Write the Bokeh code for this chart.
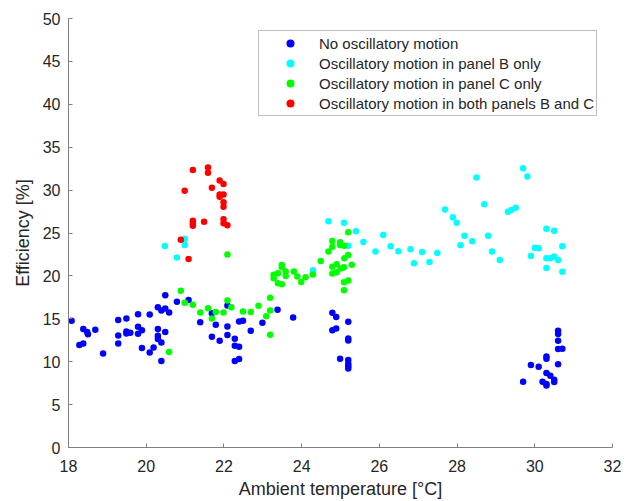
from bokeh.plotting import figure
from bokeh.models import FixedTicker, Legend, LegendItem
from bokeh.embed import file_html
from bokeh.resources import INLINE

# ---- data ----
no_osc_x = [18.08, 18.38, 18.48, 18.5, 18.28, 18.38, 18.69, 18.89, 19.28, 19.28, 19.28, 19.49, 19.49, 19.49, 19.59,
            19.79, 19.79, 19.79, 19.89, 19.89, 20.09, 20.09, 20.19, 20.3, 20.3, 20.3, 20.3, 20.39, 20.39, 20.39,
            20.49, 20.49, 20.49, 20.59, 20.79, 21.09, 21.39,
            21.69, 21.79, 22.09, 22.09, 21.69, 21.89, 22.09, 22.28, 22.28, 22.39, 22.28, 22.39, 22.39, 22.49,
            22.69, 22.99, 23.38, 23.78,
            24.79, 24.89, 24.79, 24.89, 25.2, 25.2, 25.2, 24.99, 25.2, 25.2, 25.2, 25.2,
            30.6, 30.6, 30.6, 30.6, 30.71, 30.3, 30.3, 29.9, 30.1, 30.6, 30.3, 30.4, 29.7, 30.2, 30.3, 30.3, 30.5, 30.5]
no_osc_y = [14.77, 13.8, 13.45, 13.2, 11.94, 12.13, 13.72, 10.97, 14.85, 13.06, 12.13, 15.03, 13.53, 13.3, 13.37,
            15.54, 14.07, 13.26, 13.68, 11.59, 15.5, 11.08, 11.66, 16.36, 13.8, 13.02, 12.64, 15.97, 12.25, 10.08,
            17.75, 16.2, 13.45, 15.73, 16.98, 17.2, 14.6,
            15.66, 14.3, 16.55, 14.1, 12.9, 12.44, 13.1, 12.67, 11.86, 11.74, 10.08, 10.31, 14.69, 14.77,
            13.6, 14.53, 16.05, 15.15,
            15.7, 15.2, 13.68, 13.87, 14.65, 12.71, 12.48, 10.35, 10.2, 9.77, 9.46, 9.22,
            13.6, 13.22, 12.44, 11.47, 11.5, 10.62, 10.35, 9.61, 9.42, 9.69, 8.68, 8.37, 7.67, 7.67, 7.4, 7.24, 7.9, 7.64]

panel_b_x = [20.99, 20.48, 20.99, 20.79,
             24.69, 25.09, 25.4, 25.2, 25.59, 26.1, 25.9, 26.29, 26.49, 26.8, 26.89, 27.1, 27.29, 27.49,
             27.69, 27.89, 27.99, 28.19, 28.09, 28.39, 28.5, 24.29,
             28.7, 28.8, 28.9, 29.1, 29.31, 29.4, 29.51, 29.7, 29.81, 30.3, 30.5, 30.0, 30.1, 29.9,
             30.3, 30.4, 30.5, 30.6, 30.71, 30.3, 30.71]
panel_b_y = [24.3, 23.49, 23.6, 22.13,
             26.36, 26.2, 25.2, 23.52, 23.95, 24.77, 22.83, 23.45, 22.87, 23.1, 21.47, 22.79, 21.63, 22.67,
             27.75, 26.83, 26.2, 24.69, 23.57, 24.03, 31.48, 20.66,
             28.34, 24.69, 22.83, 21.86, 27.48, 27.67, 27.94, 32.56, 31.59, 25.5, 25.27, 23.29, 23.22, 22.33,
             22.05, 22.05, 22.25, 21.86, 23.45, 20.93, 20.47]

panel_c_x = [20.89, 20.99, 21.2, 21.39, 20.59, 21.59, 21.79, 21.69, 21.99, 22.09, 22.19, 22.49, 22.69, 22.89,
             23.19, 23.19, 23.09, 23.19, 22.09,
             23.28, 23.39, 23.49, 23.49, 23.59, 23.59, 23.8, 23.89, 23.99, 24.1, 24.29, 23.28, 23.39, 23.49,
             24.49, 24.69,
             25.2, 24.79, 24.79, 24.99, 24.99, 25.09, 25.2, 25.1, 25.29, 24.9, 24.79, 25.0, 25.09, 24.9, 24.79,
             25.09, 25.2, 25.09]
panel_c_y = [18.26, 16.86, 16.63, 15.73, 11.13, 16.24, 15.78, 15.03, 15.73, 17.13, 16.36, 15.85, 15.78, 16.51,
             17.44, 15.97, 15.31, 13.14, 22.48,
             20.12, 20.31, 21.28, 21.0, 20.5, 20.0, 20.5, 19.92, 19.3, 19.85, 20.15, 19.73, 19.15, 19.03,
             21.74, 22.83,
             25.08, 24.07, 23.4, 23.92, 23.6, 23.52, 22.44, 22.05, 21.31, 21.36, 21.08, 20.85, 21.01, 20.43, 20.27,
             19.27, 19.45, 18.34]

both_x = [21.2, 21.59, 21.59, 21.89, 21.99, 21.69, 20.99, 21.89, 21.99, 21.89, 21.99, 21.99, 21.2, 21.2, 21.2,
          21.49, 21.99, 21.99, 22.09, 20.89, 21.09]
both_y = [32.33, 32.64, 32.01, 31.12, 30.7, 30.27, 29.92, 29.5, 29.5, 29.22, 28.57, 28.06, 26.43, 26.13, 25.85,
          26.32, 26.59, 26.13, 25.9, 24.22, 21.98]

labels = ["No oscillatory motion", "Oscillatory motion in panel B only",
          "Oscillatory motion in panel C only", "Oscillatory motion in both panels B and C"]
colors = ["#0000FF", "#00FFFF", "#00FF00", "#FF0000"]

x_ticks = [18, 20, 22, 24, 26, 28, 30, 32]
y_ticks = [0, 5, 10, 15, 20, 25, 30, 35, 40, 45, 50]

FONT = "Liberation Sans"
TXT = "#262626"
AX = "#808080"

p = figure(width=633, height=501, x_range=(18, 32), y_range=(0, 50),
           output_backend="svg", toolbar_location=None,
           min_border_left=68, min_border_right=21, min_border_top=18, min_border_bottom=53)
p.background_fill_color = "white"
p.border_fill_color = "white"
p.outline_line_color = None
p.xgrid.visible = False
p.ygrid.visible = False

series = [(no_osc_x, no_osc_y), (panel_b_x, panel_b_y), (panel_c_x, panel_c_y), (both_x, both_y)]
renderers = []
for (xs, ys), c in zip(series, colors):
    r = p.scatter(xs, ys, size=6.5, fill_color=c, line_color=None)
    renderers.append(r)

p.xaxis.ticker = FixedTicker(ticks=x_ticks)
p.yaxis.ticker = FixedTicker(ticks=y_ticks)
for ax in (p.xaxis[0], p.yaxis[0]):
    ax.axis_line_color = AX
    ax.major_tick_line_color = AX
    ax.major_tick_in = 4
    ax.major_tick_out = 0
    ax.minor_tick_line_color = None
    ax.major_label_text_font = FONT
    ax.major_label_text_font_size = "16px"
    ax.major_label_text_color = TXT
    ax.axis_label_text_font = FONT
    ax.axis_label_text_font_size = "18px"
    ax.axis_label_text_font_style = "normal"
    ax.axis_label_text_color = TXT

p.xaxis.axis_label = "Ambient temperature [°C]"
p.yaxis.axis_label = "Efficiency [%]"
p.xaxis.major_label_standoff = 12
p.xaxis.axis_label_standoff = 4
p.yaxis.major_label_standoff = 8
p.yaxis.axis_label_standoff = 7

legend = Legend(items=[LegendItem(label=l, renderers=[r]) for l, r in zip(labels, renderers)],
                location=(190, 331))
legend.label_text_font = FONT
legend.label_text_font_size = "15px"
legend.label_text_color = TXT
legend.border_line_color = AX
legend.border_line_width = 1
legend.background_fill_color = "white"
legend.background_fill_alpha = 1
legend.padding = 2
legend.spacing = 0
legend.margin = 0
legend.glyph_width = 58
legend.glyph_height = 20
legend.label_height = 20
legend.label_standoff = 0
p.add_layout(legend, "center")

open("out.html", "w").write(file_html(p, INLINE))
